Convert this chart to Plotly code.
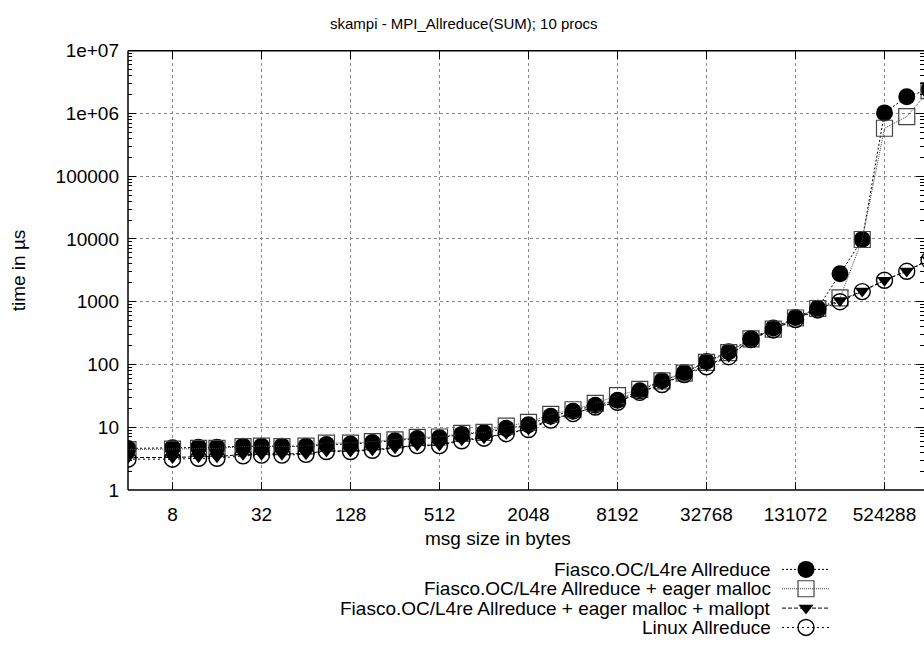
import math
import plotly.graph_objects as go

# Message sizes in bytes (sqrt(2) stepping, rounded)
sizes = [4, 8, 12, 16, 24, 32, 44, 64, 88, 128, 180, 256, 362, 512, 724, 1024,
         1448, 2048, 2896, 4096, 5792, 8192, 11584, 16384, 23168, 32768, 46340,
         65536, 92680, 131072, 185364, 262144, 370728, 524288, 741456, 1048576]

# Allreduce times in microseconds
fiasco = [4.6, 4.7, 4.8, 4.8, 5.0, 5.0, 5.0, 5.0, 5.3, 5.4, 5.7, 6.1, 6.6, 6.8,
          7.7, 8.2, 9.6, 11.0, 15.0, 18.0, 22.5, 27, 38, 55, 74, 112, 160, 260,
          380, 560, 790, 2800, 9800, 1.02e6, 1.85e6, 2.4e6]
eager = [4.4, 4.5, 4.6, 4.6, 4.9, 5.0, 4.9, 5.0, 5.6, 5.6, 5.9, 6.3, 6.9, 7.0,
         8.0, 8.3, 10.4, 12.0, 16.0, 19.0, 24, 32, 40, 55, 73, 108, 155, 255,
         365, 550, 780, 1150, 9800, 5.8e5, 8.9e5, 2.3e6]
mallopt = [3.3, 3.3, 3.4, 3.4, 3.7, 3.7, 3.7, 3.8, 4.2, 4.2, 4.4, 4.7, 5.2, 5.2,
           6.3, 6.8, 8.0, 9.4, 13.5, 16.5, 21, 25, 36, 49, 70, 98, 135, 255,
           360, 530, 760, 1050, 1480, 2200, 3100, 4650]
linux = [3.1, 3.1, 3.2, 3.2, 3.5, 3.6, 3.6, 3.7, 4.1, 4.1, 4.3, 4.6, 5.1, 5.1,
         6.1, 6.7, 7.9, 9.2, 13.0, 16.5, 21, 25, 36, 48, 69, 92, 133, 250,
         355, 520, 740, 1000, 1450, 2200, 3050, 4600]

series_names = [
    "Fiasco.OC/L4re Allreduce",
    "Fiasco.OC/L4re Allreduce + eager malloc",
    "Fiasco.OC/L4re Allreduce + eager malloc + mallopt",
    "Linux Allreduce",
]

x_tickvals = [8, 32, 128, 512, 2048, 8192, 32768, 131072, 524288]
x_ticktext = [str(v) for v in x_tickvals]
y_tickvals = [1, 10, 100, 1000, 10000, 100000, 1000000, 10000000]
y_ticktext = ["1", "10", "100", "1000", "10000", "100000", "1e+06", "1e+07"]

W, H = 924, 652
PL, PT, PB = 128, 42, 496          # plot area edges in pixels
PX_PER_DEC_X = 44.5 / math.log10(2)  # pixels per decade along x

FONT = "Liberation Sans, Arial, Helvetica, sans-serif"
FS = 19
FS_KEY = 19
FS_TITLE = 15

styles = [
    dict(line=dict(color="black", width=1, dash="2px,2px"),
         marker=dict(symbol="circle", size=17, color="black",
                     line=dict(color="black", width=0))),
    dict(line=dict(color="#444", width=1, dash="1px,1px"),
         marker=dict(symbol="square-open", size=16, color="#444",
                     line=dict(color="#444", width=1.2))),
    dict(line=dict(color="black", width=1, dash="4px,2px"),
         marker=dict(symbol="triangle-down", size=13, color="black",
                     line=dict(color="black", width=0))),
    dict(line=dict(color="black", width=1, dash="2px,3px"),
         marker=dict(symbol="circle-open", size=16, color="black",
                     line=dict(color="black", width=1.4))),
]

fig = go.Figure()
for ys, st in zip([fiasco, eager, mallopt, linux], styles):
    fig.add_trace(go.Scatter(
        x=sizes, y=ys, mode="lines+markers", line=st["line"],
        marker=st["marker"], showlegend=False, cliponaxis=True,
        xaxis="x", yaxis="y"))

# Key drawn gnuplot-style: right-aligned text, sample to its right
key_rows = [578, 598, 618, 638]
key_text_right = 773
key_x0, key_xm, key_x1 = 782, 806, 830
for name, st, ry in zip(series_names, styles, key_rows):
    fig.add_trace(go.Scatter(
        x=[key_x0, key_x1], y=[ry, ry], mode="lines", line=st["line"],
        showlegend=False, hoverinfo="skip", xaxis="x2", yaxis="y2"))
    fig.add_trace(go.Scatter(
        x=[key_xm], y=[ry], mode="markers", marker=st["marker"],
        showlegend=False, hoverinfo="skip", xaxis="x2", yaxis="y2"))
    fig.add_annotation(
        text=name, xref="paper", yref="paper", x=key_text_right / W,
        y=1 - ry / H, xanchor="right", yanchor="middle", showarrow=False,
        font=dict(family=FONT, size=FS_KEY, color="black"))

minor_y = [m * 10 ** d for d in range(0, 7) for m in range(2, 10)]

x0 = math.log10(4)
x1 = x0 + (W - PL) / PX_PER_DEC_X

axis_common = dict(
    showline=False, mirror="ticks",
    ticks="inside", ticklen=8, tickcolor="black", tickwidth=1,
    showgrid=True, gridcolor="#888", griddash="dot", gridwidth=1,
    zeroline=False, tickfont=dict(family=FONT, size=FS, color="black"),
)

fig.update_layout(
    width=W, height=H, margin=dict(l=0, r=0, t=0, b=0),
    paper_bgcolor="white", plot_bgcolor="white",
    xaxis=dict(type="log", domain=[PL / W, 1], range=[x0, x1], anchor="y",
               tickmode="array", tickvals=x_tickvals, ticktext=x_ticktext,
               ticklabelstandoff=11, **axis_common),
    yaxis=dict(type="log", domain=[1 - PB / H, 1 - PT / H], range=[0, 7],
               anchor="x", tickmode="array", tickvals=y_tickvals,
               ticktext=y_ticktext, ticklabelstandoff=8,
               minor=dict(tickmode="array", tickvals=minor_y, ticks="inside",
                          ticklen=4, tickcolor="black", showgrid=False),
               **axis_common),
    xaxis2=dict(domain=[0, 1], range=[0, W], anchor="y2", visible=False,
                fixedrange=True),
    yaxis2=dict(domain=[0, 1 - PB / H], range=[H, PB], anchor="x2",
                visible=False, fixedrange=True),
    showlegend=False,
)

# Plot frame: left, bottom and top edges (right edge lies past the canvas)
frame = dict(type="line", xref="paper", yref="paper",
             line=dict(color="black", width=1.5), layer="above")
fig.add_shape(x0=PL / W, x1=PL / W, y0=1 - PB / H, y1=1 - PT / H, **frame)
fig.add_shape(x0=PL / W, x1=1, y0=1 - PB / H, y1=1 - PB / H, **frame)
fig.add_shape(x0=PL / W, x1=1, y0=1 - PT / H, y1=1 - PT / H, **frame)

fig.add_annotation(text="skampi - MPI_Allreduce(SUM); 10 procs",
                   xref="paper", yref="paper", x=464 / W, y=1 - 14 / H,
                   xanchor="center", yanchor="middle", showarrow=False,
                   font=dict(family=FONT, size=FS_TITLE, color="black"))
fig.add_annotation(text="msg size in bytes", xref="paper", yref="paper",
                   x=498 / W, y=1 - 546 / H, xanchor="center",
                   yanchor="middle", showarrow=False,
                   font=dict(family=FONT, size=FS, color="black"))
fig.add_annotation(text="time in µs", xref="paper", yref="paper",
                   x=18 / W, y=1 - 269 / H, xanchor="center",
                   yanchor="middle", showarrow=False, textangle=-90,
                   font=dict(family=FONT, size=FS, color="black"))

fig.write_html("out.html")
